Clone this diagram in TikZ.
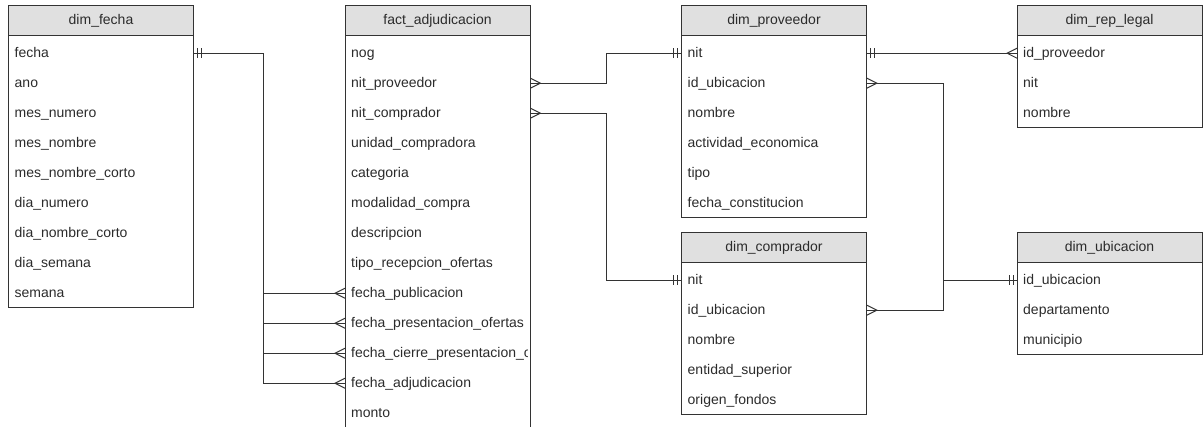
\documentclass[tikz,border=0pt]{standalone}
\usepackage{fontspec}
\setmainfont{Liberation Sans}

\definecolor{edgecol}{HTML}{333333}
\definecolor{hdrfill}{HTML}{E0E0E0}
\definecolor{txtcol}{HTML}{2B2B2B}

% fixed line box so every row sits on the same baseline
\newcommand{\rowstrut}{\rule[-4pt]{0pt}{16pt}}

\tikzset{
  box/.style={draw=edgecol, line width=1pt},
  conn/.style={draw=edgecol, line width=1pt},
  hdrtxt/.style={inner sep=0pt, font=\fontsize{14}{16}\selectfont, text=txtcol},
  rowtxt/.style={text width=173pt, inner xsep=6pt, inner ysep=0pt,
    minimum height=30pt, align=left, font=\fontsize{14}{16}\selectfont, text=txtcol},
}

% ER table: #1 prefix, #2 left x, #3 top y, #4 title, #5 columns, #6 number of columns
\newcommand{\erTable}[6]{%
  \fill[hdrfill] (#2,#3) rectangle (#2+185,#3+30);
  \node[hdrtxt] (#1-h) at (#2+92.5,#3+15) {\rowstrut#4};
  \begin{scope}
    \clip (#2,#3) rectangle (#2+182,#3+32+30*#6);
    \foreach \r [count=\i] in {#5} {
      \node[rowtxt, anchor=north west] (#1-\i) at (#2,#3+2+30*\i) {\rowstrut\r};
    }
  \end{scope}
  \draw[box] (#2,#3+30) -- (#2+185,#3+30);
  \draw[box] (#2,#3) rectangle (#2+185,#3+32+30*#6);
}

% mandatory-one mark: two bars beside the entity; #2 = +1 right, -1 left
\newcommand{\oneMark}[2]{%
  \draw[conn] ([xshift=#2*4pt]#1) ++(0,-5) -- ++(0,10);
  \draw[conn] ([xshift=#2*8pt]#1) ++(0,-5) -- ++(0,10);
}
% many mark: crow's foot opening onto the entity; #2 = +1 right, -1 left
\newcommand{\manyMark}[2]{%
  \draw[conn] ([yshift=5pt]#1) -- ([xshift=#2*10pt]#1) -- ([yshift=-5pt]#1);
}

\begin{document}
\begin{tikzpicture}[x=1pt, y=-1pt]
  \useasboundingbox (0,0) rectangle (1203,427);

  \erTable{df}{8.5}{6}{dim\_fecha}{fecha, ano, mes\_numero, mes\_nombre,
    mes\_nombre\_corto, dia\_numero, dia\_nombre\_corto, dia\_semana, semana}{9}

  \erTable{fa}{345}{6}{fact\_adjudicacion}{nog, nit\_proveedor, nit\_comprador,
    unidad\_compradora, categoria, modalidad\_compra, descripcion,
    tipo\_recepcion\_ofertas, fecha\_publicacion, fecha\_presentacion\_ofertas,
    fecha\_cierre\_presentacion\_ofertas, fecha\_adjudicacion, monto}{13}

  \erTable{dp}{681.5}{6}{dim\_proveedor}{nit, id\_ubicacion, nombre,
    actividad\_economica, tipo, fecha\_constitucion}{6}

  \erTable{dc}{681.5}{233}{dim\_comprador}{nit, id\_ubicacion, nombre,
    entidad\_superior, origen\_fondos}{5}

  \erTable{dr}{1017}{6}{dim\_rep\_legal}{id\_proveedor, nit, nombre}{3}

  \erTable{du}{1017}{233}{dim\_ubicacion}{id\_ubicacion, departamento, municipio}{3}

  % vertical routing lanes of the connectors
  \coordinate (xf) at (263,0);
  \coordinate (xp) at (606,0);
  \coordinate (xu) at (943,0);
  \coordinate (jf) at (xf |- df-1.east);
  \coordinate (jp) at (xp |- fa-2.east);
  \coordinate (jc) at (xp |- fa-3.east);
  \coordinate (ju) at (xu |- du-1.west);

  % dim_fecha.fecha -> the four date columns of the fact table
  \draw[conn] (df-1.east) -- (jf);
  \foreach \k in {9,10,11,12} {
    \draw[conn] (jf) |- (fa-\k.west);
    \manyMark{fa-\k.west}{-1}
  }
  \oneMark{df-1.east}{1}

  % fact -> dim_proveedor
  \draw[conn] (fa-2.east) -- (jp) |- (dp-1.west);
  \manyMark{fa-2.east}{1}
  \oneMark{dp-1.west}{-1}

  % fact -> dim_comprador
  \draw[conn] (fa-3.east) -- (jc) |- (dc-1.west);
  \manyMark{fa-3.east}{1}
  \oneMark{dc-1.west}{-1}

  % dim_proveedor -> dim_rep_legal
  \draw[conn] (dp-1.east) -- (dr-1.west);
  \oneMark{dp-1.east}{1}
  \manyMark{dr-1.west}{-1}

  % dim_proveedor / dim_comprador -> dim_ubicacion
  \draw[conn] (dp-2.east) -| (ju);
  \draw[conn] (dc-2.east) -| (ju);
  \draw[conn] (ju) -- (du-1.west);
  \manyMark{dp-2.east}{1}
  \manyMark{dc-2.east}{1}
  \oneMark{du-1.west}{-1}
\end{tikzpicture}
\end{document}
